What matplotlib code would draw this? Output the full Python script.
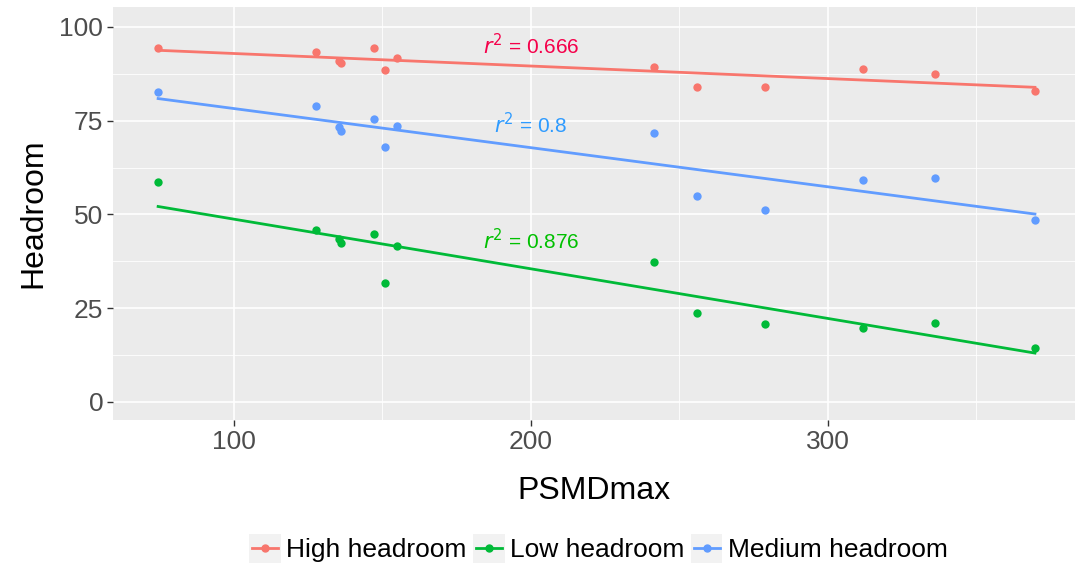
import numpy as np
import matplotlib
matplotlib.use("Agg")
import matplotlib.pyplot as plt
from matplotlib.patches import Rectangle
from matplotlib.lines import Line2D
from matplotlib.legend_handler import HandlerBase

plt.rcParams['font.family'] = ['Liberation Sans', 'DejaVu Sans']

# data
psmd = [74.5, 127.8, 135.3, 136.0, 147.1, 150.9, 154.8, 241.4, 256.0, 278.7, 311.7, 336.1, 369.7]
high = [94.5, 93.4, 91.0, 90.3, 94.5, 88.5, 91.6, 89.2, 84.0, 84.0, 88.9, 87.5, 82.9]
medium = [82.6, 78.8, 73.3, 72.3, 75.5, 67.9, 73.6, 71.6, 54.8, 51.1, 59.3, 59.6, 48.5]
low = [58.6, 45.9, 43.4, 42.5, 44.8, 31.6, 41.7, 37.2, 23.8, 20.8, 19.8, 21.1, 14.5]

series = ["High headroom", "Low headroom", "Medium headroom"]
values = [high, low, medium]
colors = ["#F8766D", "#00BA38", "#619CFF"]
r2_labels = ["0.666", "0.876", "0.8"]
r2_colors = ["#F5004A", "#00C000", "#2E9BFF"]
r2_pos = [(200, 95.0), (200, 43.0), (200, 74.0)]


class KeyHandler(HandlerBase):
    """ggplot-like legend key: grey box with a line and a point."""
    def create_artists(self, legend, orig, xdescent, ydescent, width, height, fontsize, trans):
        c = orig.get_color()
        box = Rectangle((-xdescent, -ydescent), width, height, facecolor="#F2F2F2",
                        edgecolor="none", transform=trans)
        ym = -ydescent + height / 2
        ln = Line2D([-xdescent + 2, -xdescent + width - 2], [ym, ym], color=c, lw=2.0, transform=trans)
        pt = Line2D([-xdescent + width / 2], [ym], color=c, marker="o", markersize=5,
                    linestyle="none", transform=trans)
        return [box, ln, pt]


fig = plt.figure(figsize=(10.8, 5.74), dpi=100)
ax = fig.add_axes([0.1046, 0.2683, 0.8908, 0.7195])
ax.set_facecolor("#EBEBEB")

handles = []
x = np.array(psmd)
for name, y, c, lab, lc, pos in zip(series, values, colors, r2_labels, r2_colors, r2_pos):
    y = np.array(y)
    slope, icpt = np.polyfit(x, y, 1)
    xs = np.array([x.min(), x.max()])
    ax.plot(xs, icpt + slope * xs, color=c, lw=2.0, zorder=3)
    ax.scatter(x, y, s=36, color=c, zorder=4, linewidths=0)
    ax.text(pos[0], pos[1], r"$r^2$ = " + lab, color=lc, fontsize=15,
            ha="center", va="center", zorder=5)
    handles.append(Line2D([], [], color=c))

ax.set_xticks([100, 200, 300])
ax.set_yticks([0, 25, 50, 75, 100])
ax.set_xticks([150, 250, 350], minor=True)
ax.set_yticks([12.5, 37.5, 62.5, 87.5], minor=True)
ax.set_xlim(59.3, 383.2)
ax.set_ylim(-4.8, 105.3)
ax.grid(which="major", color="white", lw=1.2)
ax.grid(which="minor", color="white", lw=0.6)
ax.set_axisbelow(True)
for s in ax.spines.values():
    s.set_visible(False)
ax.tick_params(which="major", length=4, width=1, color="#333333",
               labelsize=19, labelcolor="#4D4D4D", pad=3)
ax.tick_params(which="minor", length=0)

ax.set_xlabel("PSMDmax", fontsize=23, labelpad=16)
ax.set_ylabel("Headroom", fontsize=23, labelpad=8)

fig.legend(handles, series, loc="center", bbox_to_anchor=(0.554, 0.045), ncol=3,
           frameon=False, fontsize=19, handler_map={Line2D: KeyHandler()},
           handlelength=1.2, handleheight=1.3, handletextpad=0.2, columnspacing=0.25,
           borderaxespad=0)

fig.savefig("out.png", dpi=100)
